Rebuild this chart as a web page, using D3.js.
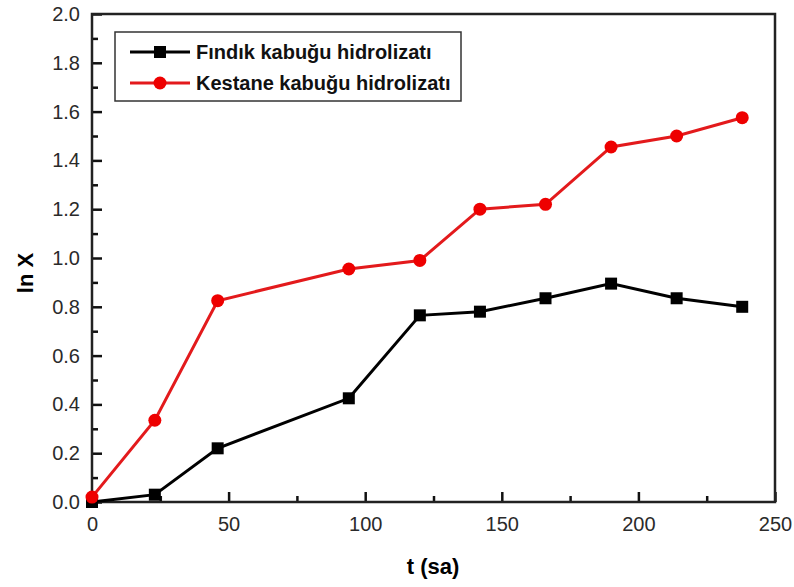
<!DOCTYPE html>
<html>
<head>
<meta charset="utf-8">
<script src="https://cdn.jsdelivr.net/npm/d3@7"></script>
<style>
  body { margin: 0; background: #fff; }
  text { font-family: Arial, "Liberation Sans", sans-serif; }
</style>
</head>
<body>
<div id="chart"></div>
<script>
const times = [0, 23, 46, 94, 120, 142, 166, 190, 214, 238];
const findik = [0.0, 0.03, 0.22, 0.425, 0.765, 0.78, 0.835, 0.895, 0.835, 0.80];
const kestane = [0.02, 0.335, 0.825, 0.955, 0.99, 1.2, 1.22, 1.455, 1.50, 1.575];
const seriesNames = ["Fındık kabuğu hidrolizatı", "Kestane kabuğu hidrolizatı"];
const xTicks = [0, 50, 100, 150, 200, 250];
const yTicks = [0, 0.2, 0.4, 0.6, 0.8, 1.0, 1.2, 1.4, 1.6, 1.8, 2.0];

const width = 794;
const height = 587;
const margin = { left: 92, right: 19, top: 14, bottom: 85 };

const svg = d3.select("#chart")
    .append("svg")
    .attr("width", width)
    .attr("height", height);

const x = d3.scaleLinear().domain([0, 250]).range([margin.left, width - margin.right]);
const y = d3.scaleLinear().domain([0, 2]).range([height - margin.bottom, margin.top]);

// minor ticks
svg.append("g")
    .attr("transform", `translate(0,${y(0)})`)
    .call(d3.axisBottom(x).tickValues(d3.range(25, 250, 50)).tickSize(-6).tickFormat(""))
    .call(g => g.select(".domain").remove())
    .selectAll("line").attr("stroke-width", 2.5).attr("stroke", "#111");
svg.append("g")
    .attr("transform", `translate(${x(0)},0)`)
    .call(d3.axisLeft(y).tickValues(d3.range(0.1, 2, 0.2)).tickSize(-6).tickFormat(""))
    .call(g => g.select(".domain").remove())
    .selectAll("line").attr("stroke-width", 2.5).attr("stroke", "#111");

// major ticks
const xAxis = svg.append("g")
    .attr("transform", `translate(0,${y(0)})`)
    .call(d3.axisBottom(x).tickValues(xTicks).tickSize(-10).tickPadding(15).tickFormat(d3.format("d")));
xAxis.select(".domain").remove();
xAxis.selectAll("line").attr("stroke-width", 2.5).attr("stroke", "#111");
xAxis.selectAll("text").attr("font-size", 20).attr("fill", "#2a2a2a");

const yAxis = svg.append("g")
    .attr("transform", `translate(${x(0)},0)`)
    .call(d3.axisLeft(y).tickValues(yTicks).tickSize(-10).tickPadding(12).tickFormat(d3.format(".1f")));
yAxis.select(".domain").remove();
yAxis.selectAll("line").attr("stroke-width", 2.5).attr("stroke", "#111");
yAxis.selectAll("text").attr("font-size", 20).attr("fill", "#2a2a2a");

// frame
svg.append("rect")
    .attr("x", x(0))
    .attr("y", y(2))
    .attr("width", x(250) - x(0))
    .attr("height", y(0) - y(2))
    .attr("fill", "none")
    .attr("stroke", "#222")
    .attr("stroke-width", 2.5);

const line = d3.line().x((d, i) => x(times[i])).y(d => y(d));

svg.append("path")
    .datum(findik)
    .attr("d", line)
    .attr("fill", "none")
    .attr("stroke", "#000")
    .attr("stroke-width", 3);

svg.selectAll(".sq")
    .data(findik)
    .enter()
    .append("rect")
    .attr("class", "sq")
    .attr("x", (d, i) => x(times[i]) - 6)
    .attr("y", d => y(d) - 6)
    .attr("width", 12)
    .attr("height", 12)
    .attr("fill", "#000");

svg.append("path")
    .datum(kestane)
    .attr("d", line)
    .attr("fill", "none")
    .attr("stroke", "#e31a1c")
    .attr("stroke-width", 3);

svg.selectAll(".dot")
    .data(kestane)
    .enter()
    .append("circle")
    .attr("class", "dot")
    .attr("cx", (d, i) => x(times[i]))
    .attr("cy", d => y(d))
    .attr("r", 6.5)
    .attr("fill", "#ee0000");

// legend
const legend = svg.append("g").attr("transform", "translate(115,32)");
legend.append("rect")
    .attr("width", 346)
    .attr("height", 69)
    .attr("fill", "#fff")
    .attr("stroke", "#333")
    .attr("stroke-width", 1.5);

const colours = ["#000", "#e31a1c"];
seriesNames.forEach((name, i) => {
  const g = legend.append("g").attr("transform", `translate(0,${20 + i * 31})`);
  g.append("line")
      .attr("x1", 15).attr("x2", 75)
      .attr("stroke", colours[i]).attr("stroke-width", 3);
  if (i === 0) {
    g.append("rect").attr("x", 39).attr("y", -6).attr("width", 12).attr("height", 12).attr("fill", "#000");
  } else {
    g.append("circle").attr("cx", 45).attr("r", 6.5).attr("fill", "#ee0000");
  }
  g.append("text")
      .attr("x", 81)
      .attr("y", 7)
      .attr("font-size", 20)
      .attr("font-weight", "bold")
      .attr("fill", "#111")
      .text(name);
});

// axis titles
svg.append("text")
    .attr("x", 433)
    .attr("y", 574)
    .attr("text-anchor", "middle")
    .attr("font-size", 22)
    .attr("font-weight", "bold")
    .text("t (sa)");

svg.append("text")
    .attr("transform", `translate(33,273) rotate(-90)`)
    .attr("text-anchor", "middle")
    .attr("font-size", 22)
    .attr("font-weight", "bold")
    .text("ln X");
</script>
</body>
</html>
